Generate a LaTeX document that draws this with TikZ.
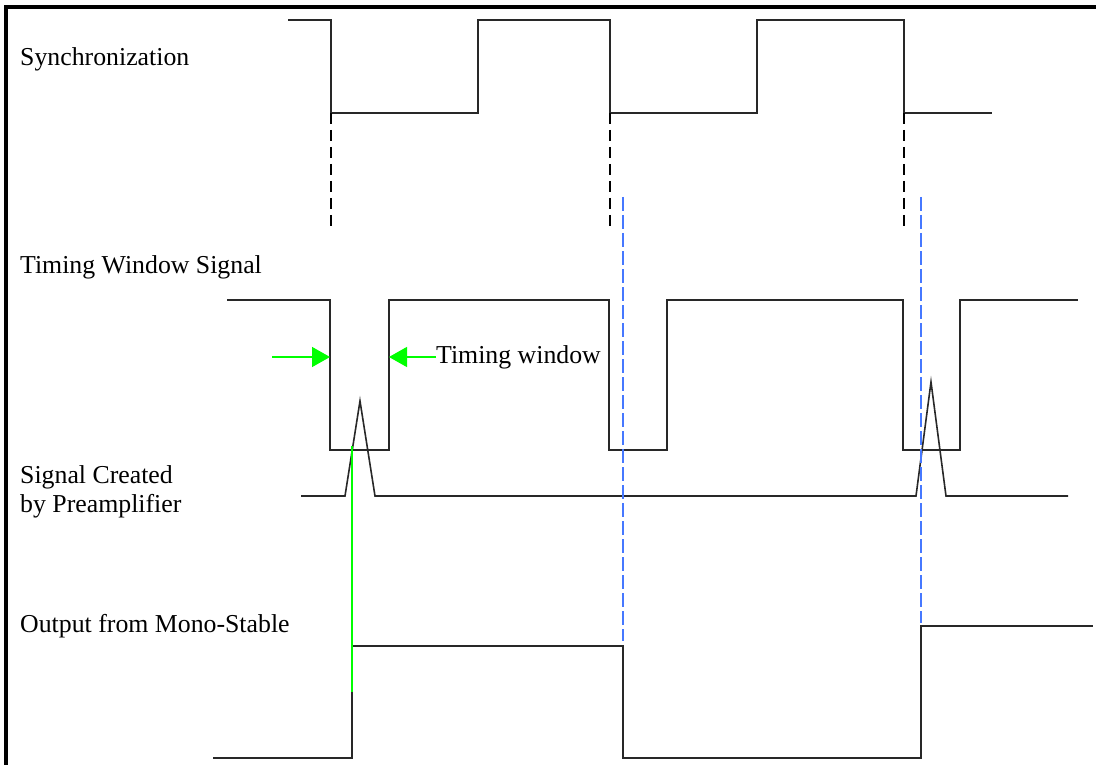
\documentclass[tikz,border=0pt]{standalone}
\usepackage{fontspec}
\setmainfont{Liberation Serif}
\usetikzlibrary{arrows.meta}
\definecolor{grn}{RGB}{0,255,0}
\definecolor{blu}{RGB}{70,120,255}
\definecolor{ink}{RGB}{40,40,40}
\begin{document}
\begin{tikzpicture}[x=1pt,y=-1pt,
  sig/.style={line width=1.6pt, draw=ink},
  blackdash/.style={line width=1.6pt, draw=black, dash pattern=on 11pt off 6pt},
  bluedash/.style={line width=1.4pt, draw=blu, dash pattern=on 14pt off 4pt},
  grnline/.style={line width=1.4pt, draw=grn},
  grnarrow/.style={line width=1.4pt, draw=grn, -{Triangle[length=18pt,width=20pt,fill=grn]}},
  lbl/.style={anchor=base west, inner sep=0pt, font=\fontsize{25.8}{29}\selectfont, text=black}]
\useasboundingbox (0,0) rectangle (1096,765);
\fill[white] (0,0) rectangle (1096,765);
% frame
\draw[line width=4pt] (5.5,765) -- (5.5,7.5) -- (1096,7.5);
% labels
\node[lbl] (sync) at (20,66) {Synchronization};
\node[lbl] (tws) at (20,273) {Timing Window Signal};
\node[lbl] (sc1) at (20,483) {Signal Created};
\node[lbl] (sc2) at (20,512) {by Preamplifier};
\node[lbl] (out) at (20,632) {Output from Mono-Stable};
% synchronization waveform
\draw[sig] (288,20) -- (331,20) -- (331,113) -- (478,113) -- (478,20) -- (610,20) -- (610,113)
  -- (757,113) -- (757,20) -- (904,20) -- (904,113) -- (992,113);
% black dashed drop lines
\draw[blackdash] (331,113) -- (331,228);
\draw[blackdash] (610,113) -- (610,228);
\draw[blackdash] (904,113) -- (904,228);
% timing window signal
\draw[sig] (227,300) -- (330,300) -- (330,450) -- (389,450) -- (389,300) -- (609,300) -- (609,450)
  -- (667,450) -- (667,300) -- (903,300) -- (903,450) -- (960,450) -- (960,300) -- (1078,300);
% preamplifier signal
\draw[sig] (301,496) -- (345,496) -- (360,401) -- (375,496) -- (916,496) -- (931,382) -- (946,496) -- (1068,496);
% mono-stable output
\draw[sig] (213,758) -- (352,758) -- (352,646) -- (623,646) -- (623,758) -- (921,758) -- (921,626) -- (1093,626);
% blue dashed lines
\draw[bluedash] (623,197) -- (623,641);
\draw[bluedash] (921,197) -- (921,623);
% green trigger line
\draw[grnline] (352,446) -- (352,692);
% timing window arrows and label
\node[lbl, anchor=west] (twl) at (436,357) {Timing window};
\coordinate (lt) at (272,357);
\coordinate (le) at (330,357);
\coordinate (re) at (389,357);
\draw[grnarrow] (lt) -- (le);
\draw[grnarrow] (twl.west) -- (re);
\end{tikzpicture}
\end{document}
